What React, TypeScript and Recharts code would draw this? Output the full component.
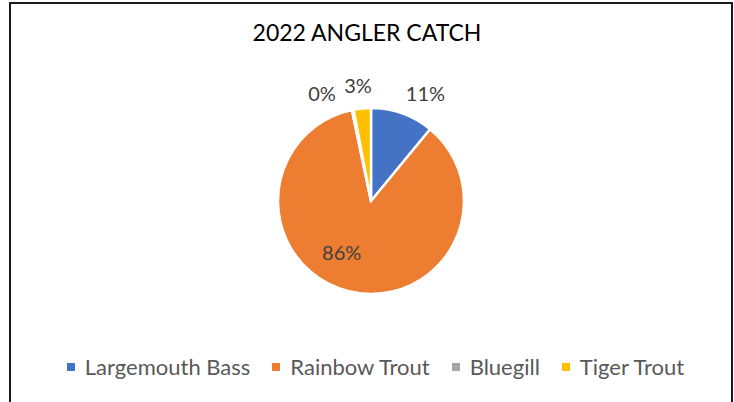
import { PieChart, Pie, Cell, Legend } from "recharts";

const species = ["Largemouth Bass", "Rainbow Trout", "Bluegill", "Tiger Trout"];
const catchShare = [11, 86, 0.3, 3];
const colors = ["#4472C4", "#ED7D31", "#A5A5A5", "#FFC000"];

// label placement tweaks (Excel "best fit" look)
const labelRadiusShift = [28, -34, 26, 24];
const labelAngleShift = [-7, -16, 13, 1];

const data = species.map((name, i) => ({ name, value: catchShare[i] }));

const RAD = Math.PI / 180;

const renderLabel = (props: any) => {
  const { cx, cy, midAngle, outerRadius, percent, index } = props;
  const r = outerRadius + labelRadiusShift[index];
  const a = (midAngle + labelAngleShift[index]) * RAD;
  const x = cx + r * Math.cos(a);
  const y = cy - r * Math.sin(a);
  return (
    <text x={x} y={y} fill="#404040" fontSize={20} fontFamily="Lato" textAnchor="middle" dominantBaseline="central">
      {Math.round(percent * 100) + "%"}
    </text>
  );
};

// own legend so the order follows the data, not sorted
const renderLegend = () => (
  <div style={{ display: "flex", justifyContent: "center", alignItems: "center", paddingLeft: 17, fontFamily: "Lato", fontSize: 22, color: "#595959" }}>
    {species.map((name, i) => (
      <div key={name} style={{ display: "flex", alignItems: "center", marginRight: i < species.length - 1 ? 22 : 0 }}>
        <span style={{ width: 8, height: 8, background: colors[i], marginRight: 10, display: "inline-block" }} />
        <span>{name}</span>
      </div>
    ))}
  </div>
);

export default function App() {
  return (
    <div style={{ position: "absolute", left: 0, top: 0, width: 734, height: 402, overflow: "hidden", background: "#fff" }}>
      <div style={{ position: "absolute", left: 9, top: 2, width: 720, height: 420, border: "2px solid #1a1a1a" }} />
      <div style={{ position: "absolute", left: 0, top: 18, width: 734, textAlign: "center", fontFamily: "Lato", fontSize: 23, color: "#000" }}>
        2022 ANGLER CATCH
      </div>
      <div style={{ position: "absolute", left: 0, top: 0 }}>
        <PieChart width={734} height={402}>
          <Pie
            data={data}
            dataKey="value"
            nameKey="name"
            cx={366}
            cy={196}
            outerRadius={93}
            startAngle={90}
            endAngle={-270}
            stroke="#fff"
            strokeWidth={2.5}
            label={renderLabel}
            labelLine={false}
            isAnimationActive={false}
          >
            {data.map((d, i) => (
              <Cell key={d.name} fill={colors[i]} />
            ))}
          </Pie>
          <Legend content={renderLegend} verticalAlign="bottom" wrapperStyle={{ bottom: 22 }} />
        </PieChart>
      </div>
    </div>
  );
}
